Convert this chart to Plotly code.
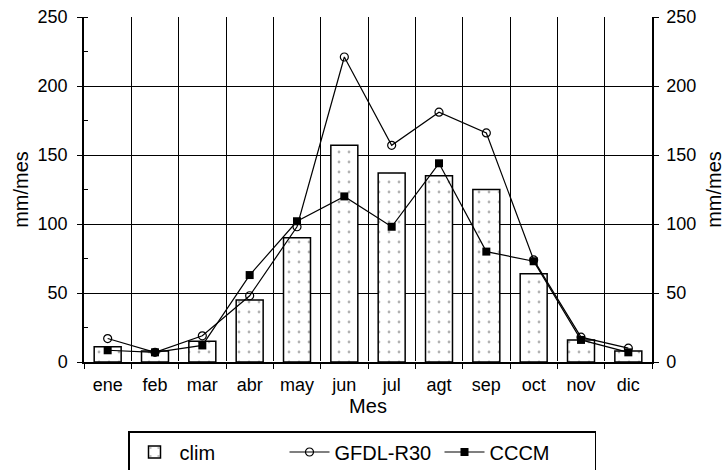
import plotly.graph_objects as go

months = ["ene", "feb", "mar", "abr", "may", "jun", "jul", "agt", "sep", "oct", "nov", "dic"]
clim = [11, 8, 15, 45, 90, 157, 137, 135, 125, 64, 16, 8]
gfdl = [17, 7, 19, 48, 98, 221, 157, 181, 166, 74, 18, 10]
cccm = [8.5, 7, 12, 63, 102, 120, 98, 144, 80, 73, 16, 7]

FONT = "Liberation Sans, Arial, sans-serif"

fig = go.Figure()
fig.add_trace(go.Bar(
    x=months, y=clim, name="clim", width=0.57,
    marker=dict(color="white", line=dict(color="black", width=1.5),
                pattern=dict(shape=".", size=10, solidity=0.06, fgcolor="#666666", bgcolor="white")),
))
fig.add_trace(go.Scatter(
    x=months, y=gfdl, name="GFDL-R30", mode="lines+markers",
    line=dict(color="black", width=1.2),
    marker=dict(symbol="circle-open", size=8, color="black", line=dict(width=1.2)),
))
fig.add_trace(go.Scatter(
    x=months, y=cccm, name="CCCM", mode="lines+markers",
    line=dict(color="black", width=1.2),
    marker=dict(symbol="square", size=8, color="black"),
))
fig.add_trace(go.Scatter(x=[months[0]], y=[0], yaxis="y2", showlegend=False,
                         mode="markers", marker=dict(opacity=0), hoverinfo="skip"))

axis_common = dict(
    range=[0, 250], dtick=50, tickfont=dict(size=18, color="black", family=FONT),
    showline=True, linecolor="black", linewidth=1.5,
    ticks="outside", ticklen=5, tickcolor="black",
    title_font=dict(size=20, color="black", family=FONT),
    automargin=False,
)

fig.update_layout(
    width=725, height=470,
    margin=dict(l=84, r=73, t=17, b=108),
    paper_bgcolor="white", plot_bgcolor="white",
    font=dict(family=FONT, color="black"),
    xaxis=dict(
        type="category", tickson="boundaries", showgrid=True, gridcolor="black", gridwidth=1,
        showline=True, linecolor="black", linewidth=1.5, ticks="outside", ticklen=5, tickcolor="black",
        tickfont=dict(size=18, color="black", family=FONT), ticklabelstandoff=6,
        title=dict(text="Mes", font=dict(size=20, color="black", family=FONT), standoff=0),
        range=[-0.5, 11.5], automargin=False,
    ),
    yaxis=dict(
        **axis_common, showgrid=True, gridcolor="black", gridwidth=1,
        minor=dict(dtick=25, ticks="inside", ticklen=4, tickcolor="black", showgrid=False),
        ticklabelstandoff=6,
        title=dict(text="mm/mes", standoff=4),
    ),
    yaxis2=dict(
        **axis_common, overlaying="y", side="right", showgrid=False,
        ticklabelstandoff=4,
        title=dict(text="mm/mes", standoff=22),
    ),
    legend=dict(
        orientation="h", xref="container", yref="container",
        x=128 / 725, xanchor="left", y=1 - 431 / 470, yanchor="top",
        bordercolor="black", borderwidth=1.5, bgcolor="white",
        font=dict(size=20, color="black", family=FONT),
        itemwidth=40, entrywidth=100, entrywidthmode="pixels",
    ),
    showlegend=True,
)

fig.write_html("out.html")
